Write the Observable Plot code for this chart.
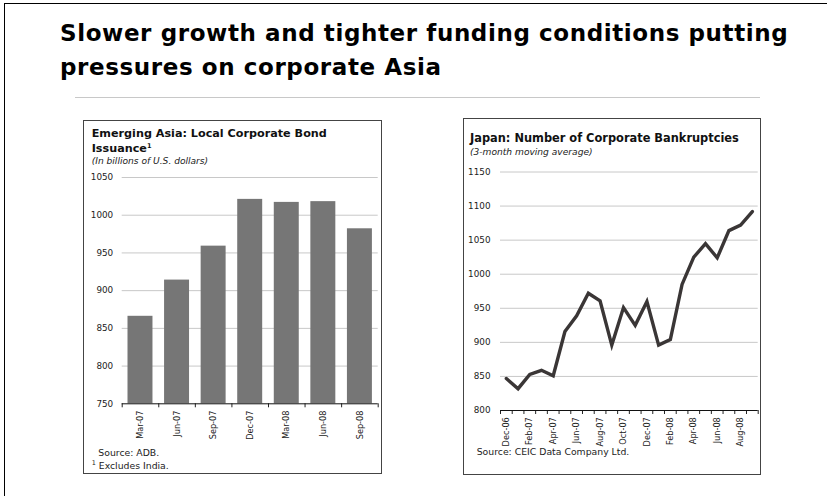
<!DOCTYPE html>
<html>
<head>
<meta charset="utf-8">
<script src="https://cdn.jsdelivr.net/npm/d3@7"></script>
<script src="https://cdn.jsdelivr.net/npm/@observablehq/plot@0.6"></script>
<style>
html, body { margin: 0; padding: 0; background: #fff; }
body { width: 827px; height: 496px; position: relative; overflow: hidden; font-family: "DejaVu Sans", Verdana, sans-serif; color: #111; }
.t { position: absolute; line-height: 1; white-space: nowrap; }
#frame { position: absolute; left: 4px; top: 3px; width: 900px; height: 600px; border-left: 1px solid #000; border-top: 1px solid #000; }
.main { font-weight: bold; font-size: 23px; color: #000; letter-spacing: 0.6px; }
#sep { position: absolute; left: 75px; top: 97px; width: 685px; height: 1px; background: #c8c8c8; }
.box { position: absolute; box-sizing: border-box; border: 1.5px solid #444; }
.ct { font-weight: bold; font-size: 11.2px; color: #111; }
.sub { font-style: italic; font-size: 9.1px; color: #222; }
.src { font-size: 9.3px; color: #222; }
sup { font-size: 6.5px; vertical-align: 4px; line-height: 0; }
.plot { position: absolute; }
</style>
</head>
<body>
<div id="frame"></div>
<div class="t main" style="left:60px; top:22.2px;">Slower growth and tighter funding conditions putting</div>
<div class="t main" style="left:60px; top:55.7px;">pressures on corporate Asia</div>
<div id="sep"></div>

<div class="box" style="left:83px; top:120px; width:299px; height:354px;"></div>
<div class="box" style="left:463px; top:118px; width:298px; height:357px;"></div>

<div class="t ct" style="left:91.7px; top:127.5px;">Emerging Asia: Local Corporate Bond</div>
<div class="t ct" style="left:91.7px; top:143.2px;">Issuance<sup>1</sup></div>
<div class="t sub" style="left:91.7px; top:157.3px;">(In billions of U.S. dollars)</div>
<div class="t src" style="left:98.3px; top:448px;">Source: ADB.</div>
<div class="t src" style="left:91.7px; top:461.3px;"><sup>1</sup> Excludes India.</div>

<div class="t ct" style="left:470px; top:133.1px; font-size:11.4px;">Japan: Number of Corporate Bankruptcies</div>
<div class="t sub" style="left:470px; top:148.3px;">(3-month moving average)</div>
<div class="t src" style="left:476.7px; top:447.2px;">Source: CEIC Data Company Ltd.</div>

<div id="left" class="plot" style="left:84px; top:160px;"></div>
<div id="right" class="plot" style="left:464px; top:160px;"></div>

<script>
// ---- Left chart: Emerging Asia local corporate bond issuance ----
const bondDates = ["Mar-07", "Jun-07", "Sep-07", "Dec-07", "Mar-08", "Jun-08", "Sep-08"];
const bondValues = [866, 914, 959, 1021, 1017, 1018, 982];
const bondYTicks = [750, 800, 850, 900, 950, 1000, 1050];

// ---- Right chart: Japan corporate bankruptcies (3-month moving average) ----
const months = ["Dec-06", "Jan-07", "Feb-07", "Mar-07", "Apr-07", "May-07", "Jun-07", "Jul-07",
  "Aug-07", "Sep-07", "Oct-07", "Nov-07", "Dec-07", "Jan-08", "Feb-08", "Mar-08", "Apr-08",
  "May-08", "Jun-08", "Jul-08", "Aug-08", "Sep-08"];
const bankruptcies = [847, 832, 853, 859, 851, 916, 939, 972, 961, 896, 951, 925, 960, 896,
  904, 985, 1025, 1045, 1024, 1064, 1072, 1092];
const bankYTicks = [800, 850, 900, 950, 1000, 1050, 1100, 1150];

const axisStyle = {fontFamily: "DejaVu Sans, Verdana, sans-serif", fontSize: "8.8px", color: "#222", background: "transparent", overflow: "visible"};
const plain = d3.format("d");

const bondData = bondDates.map((d, i) => ({i, date: d, value: bondValues[i]}));
const bondBase = bondYTicks[0];

const left = Plot.plot({
  width: 296, height: 285,
  marginLeft: 37.7, marginRight: 2.3, marginTop: 17, marginBottom: 41.7,
  style: axisStyle,
  x: {type: "linear", domain: [0, bondDates.length], ticks: d3.range(bondDates.length + 1), tickFormat: () => "", tickSize: 4, label: null},
  y: {domain: [bondBase, bondYTicks[bondYTicks.length - 1]], ticks: bondYTicks, tickFormat: plain, tickSize: 0, tickPadding: 9, label: null},
  marks: [
    Plot.ruleY(bondYTicks.slice(1), {stroke: "#c8c8c8", strokeWidth: 1}),
    Plot.rectY(bondData, {x1: "i", x2: d => d.i + 1, y1: bondBase, y2: "value", fill: "#767676", insetLeft: 5.8, insetRight: 5.8}),
    Plot.ruleY([bondBase], {stroke: "#111", strokeWidth: 1}),
    Plot.text(bondData, {x: d => d.i + 0.5, y: bondBase, text: "date", rotate: -90, textAnchor: "end", dy: 6.7, fill: "#222", fontSize: 8.2})
  ]
});
document.getElementById("left").appendChild(left);

const bankData = months.map((m, i) => ({i, month: m, value: bankruptcies[i]}));
const bankBase = bankYTicks[0];

const right = Plot.plot({
  width: 296, height: 280,
  marginLeft: 36, marginRight: 2.3, marginTop: 11.5, marginBottom: 30,
  style: axisStyle,
  x: {type: "linear", domain: [0, months.length], ticks: d3.range(months.length + 1), tickFormat: () => "", tickSize: 4, label: null},
  y: {domain: [bankBase, bankYTicks[bankYTicks.length - 1]], ticks: bankYTicks, tickFormat: plain, tickSize: 0, tickPadding: 10, label: null},
  marks: [
    Plot.ruleY(bankYTicks.slice(1), {stroke: "#c8c8c8", strokeWidth: 1}),
    Plot.ruleY([bankBase], {stroke: "#111", strokeWidth: 1}),
    Plot.line(bankData, {x: d => d.i + 0.5, y: "value", stroke: "#3a3636", strokeWidth: 3.4, strokeLinejoin: "miter", strokeMiterlimit: 4}),
    Plot.text(bankData.filter(d => d.i % 2 === 0), {x: d => d.i + 0.5, y: bankBase, text: "month", rotate: -90, textAnchor: "end", dy: 6.7, fill: "#222", fontSize: 8.2})
  ]
});
document.getElementById("right").appendChild(right);
</script>
</body>
</html>
